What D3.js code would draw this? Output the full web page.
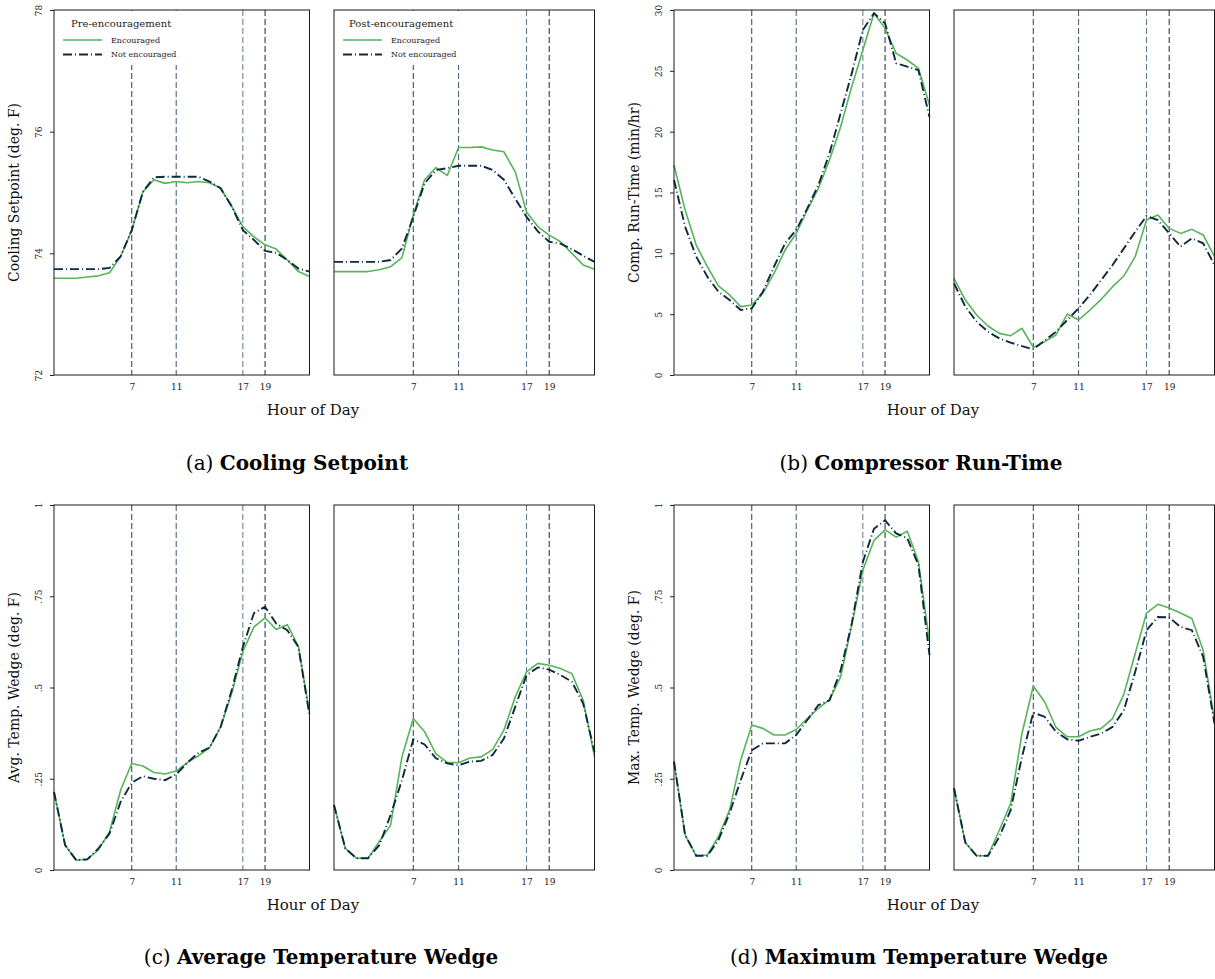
<!DOCTYPE html>
<html>
<head>
<meta charset="utf-8">
<script src="https://cdn.jsdelivr.net/npm/d3@7"></script>
<style>
  body { margin: 0; background: #fff; }
  svg { display: block; font-family: "DejaVu Serif", serif; }
</style>
</head>
<body>
<script>
// hours of the day (x categories)
const hours = [0,1,2,3,4,5,6,7,8,9,10,11,12,13,14,15,16,17,18,19,20,21,22,23];
const markerHours = [7, 11, 17, 19];
const markerColors = ["#263f58", "#3b5870", "#587690", "#14273b"];

// (a) cooling setpoint, deg F
const setpointPreEnc  = [73.59,73.59,73.59,73.61,73.63,73.68,73.95,74.38,75.01,75.21,75.15,75.18,75.16,75.18,75.16,75.07,74.77,74.44,74.27,74.14,74.07,73.89,73.70,73.62];
const setpointPreNot  = [73.74,73.74,73.74,73.74,73.74,73.76,73.95,74.38,75.01,75.25,75.26,75.26,75.26,75.26,75.18,75.07,74.77,74.38,74.22,74.04,74.01,73.89,73.75,73.70];
const setpointPostEnc = [73.70,73.70,73.70,73.70,73.73,73.78,73.93,74.63,75.21,75.41,75.28,75.74,75.74,75.75,75.70,75.67,75.34,74.68,74.44,74.30,74.19,74.00,73.81,73.74];
const setpointPostNot = [73.86,73.86,73.86,73.86,73.86,73.89,74.08,74.60,75.15,75.37,75.40,75.44,75.44,75.44,75.37,75.21,74.90,74.60,74.36,74.19,74.16,74.07,73.96,73.86];

// (b) compressor run-time, min/hr
const runtimePreEnc  = [17.26,13.56,10.68,8.90,7.32,6.58,5.62,5.75,6.71,8.36,10.27,11.64,13.56,15.34,17.67,20.41,23.70,26.71,29.73,28.49,26.44,25.89,25.21,22.19];
const runtimePreNot  = [16.03,12.19,9.73,8.08,6.85,6.16,5.34,5.48,6.85,8.90,10.82,11.92,13.70,15.62,18.22,21.51,24.79,28.36,29.73,28.90,25.62,25.34,25.06,21.20];
const runtimePostEnc = [7.95,6.16,4.93,4.03,3.42,3.23,3.84,2.27,2.74,3.29,5.01,4.52,5.34,6.22,7.26,8.14,9.73,12.74,13.15,12.05,11.64,11.97,11.51,9.73];
const runtimePostNot = [7.53,5.62,4.38,3.56,3.01,2.66,2.38,2.11,2.82,3.56,4.52,5.48,6.58,7.81,9.04,10.41,11.78,13.07,12.74,11.64,10.55,11.23,10.82,9.04];

// (c) average temperature wedge, deg F
const avgWedgePreEnc  = [0.214,0.068,0.027,0.030,0.055,0.105,0.219,0.292,0.285,0.267,0.263,0.271,0.294,0.313,0.335,0.392,0.484,0.598,0.666,0.691,0.659,0.672,0.613,0.431];
const avgWedgePreNot  = [0.214,0.068,0.027,0.029,0.059,0.100,0.187,0.239,0.257,0.250,0.246,0.262,0.294,0.321,0.335,0.392,0.493,0.611,0.704,0.721,0.675,0.657,0.611,0.424];
const avgWedgePostEnc = [0.178,0.059,0.032,0.032,0.078,0.123,0.310,0.415,0.379,0.318,0.295,0.294,0.307,0.310,0.330,0.383,0.474,0.543,0.566,0.561,0.552,0.538,0.465,0.310];
const avgWedgePostNot = [0.178,0.059,0.032,0.032,0.068,0.151,0.246,0.358,0.344,0.306,0.292,0.287,0.297,0.299,0.315,0.360,0.447,0.534,0.555,0.549,0.534,0.516,0.456,0.324];

// (d) maximum temperature wedge, deg F
const maxWedgePreEnc  = [0.297,0.096,0.039,0.041,0.091,0.164,0.301,0.397,0.388,0.370,0.370,0.385,0.415,0.443,0.467,0.529,0.671,0.821,0.903,0.932,0.912,0.928,0.845,0.626];
const maxWedgePreNot  = [0.297,0.096,0.039,0.039,0.082,0.155,0.246,0.328,0.347,0.347,0.347,0.370,0.411,0.452,0.465,0.547,0.675,0.844,0.935,0.958,0.922,0.909,0.836,0.589];
const maxWedgePostEnc = [0.224,0.075,0.039,0.039,0.109,0.182,0.374,0.504,0.461,0.391,0.365,0.365,0.381,0.388,0.415,0.482,0.593,0.704,0.728,0.718,0.704,0.689,0.602,0.411];
const maxWedgePostNot = [0.224,0.075,0.039,0.039,0.091,0.164,0.310,0.431,0.420,0.379,0.358,0.354,0.365,0.374,0.392,0.438,0.543,0.657,0.693,0.692,0.666,0.657,0.584,0.401];

const setpointTicks = [72, 74, 76, 78];
const runtimeTicks = [0, 5, 10, 15, 20, 25, 30];
const wedgeTicks = [0, 0.25, 0.5, 0.75, 1];
const wedgeFormat = d => d === 0 ? "0" : d === 1 ? "1" : String(d).replace(/^0/, "");

const legendTitles = ["Pre-encouragement", "Post-encouragement"];
const seriesNames = ["Encouraged", "Not encouraged"];

const green = "#56b45a";
const navy = "#0f2940";

const width = 1215, height = 979;
const svg = d3.select("body").append("svg")
    .attr("width", width)
    .attr("height", height);

const panels = [
    {lefts: [[54, 309.5], [334, 594.5]], top: 10, bottom: 375,
     domain: [72, 78], ticks: setpointTicks, fmt: d3.format("d"),
     ylabel: "Cooling Setpoint (deg. F)",
     data: [[setpointPreEnc, setpointPreNot], [setpointPostEnc, setpointPostNot]],
     legend: true, tag: "(a)", title: "Cooling Setpoint", capX: 297, capY: 470},
    {lefts: [[674, 929.5], [954, 1214.5]], top: 10, bottom: 375,
     domain: [0, 30], ticks: runtimeTicks, fmt: d3.format("d"),
     ylabel: "Comp. Run-Time (min/hr)",
     data: [[runtimePreEnc, runtimePreNot], [runtimePostEnc, runtimePostNot]],
     legend: false, tag: "(b)", title: "Compressor Run-Time", capX: 921, capY: 470},
    {lefts: [[54, 309.5], [334, 594.5]], top: 505, bottom: 870,
     domain: [0, 1], ticks: wedgeTicks, fmt: wedgeFormat,
     ylabel: "Avg. Temp. Wedge (deg. F)",
     data: [[avgWedgePreEnc, avgWedgePreNot], [avgWedgePostEnc, avgWedgePostNot]],
     legend: false, tag: "(c)", title: "Average Temperature Wedge", capX: 321, capY: 964},
    {lefts: [[674, 929.5], [954, 1214.5]], top: 505, bottom: 870,
     domain: [0, 1], ticks: wedgeTicks, fmt: wedgeFormat,
     ylabel: "Max. Temp. Wedge (deg. F)",
     data: [[maxWedgePreEnc, maxWedgePreNot], [maxWedgePostEnc, maxWedgePostNot]],
     legend: false, tag: "(d)", title: "Maximum Temperature Wedge", capX: 919, capY: 964}
];

panels.forEach(p => {
    const y = d3.scaleLinear().domain(p.domain).range([p.bottom, p.top]);

    p.lefts.forEach((ext, k) => {
        const x = d3.scaleLinear().domain([0, 23]).range(ext);
        const g = svg.append("g");

        // reference hours
        g.selectAll(".marker")
            .data(markerHours)
            .enter().append("line")
            .attr("x1", d => x(d)).attr("x2", d => x(d))
            .attr("y1", p.top).attr("y2", p.bottom)
            .attr("stroke", (d, i) => markerColors[i])
            .attr("stroke-width", 1)
            .attr("stroke-dasharray", "6,3");

        const line = d3.line()
            .x((d, i) => x(hours[i]))
            .y(d => y(d));

        g.append("path")
            .datum(p.data[k][0])
            .attr("d", line)
            .attr("fill", "none")
            .attr("stroke", green)
            .attr("stroke-width", 1.6)
            .attr("stroke-linejoin", "round");

        g.append("path")
            .datum(p.data[k][1])
            .attr("d", line)
            .attr("fill", "none")
            .attr("stroke", navy)
            .attr("stroke-width", 1.9)
            .attr("stroke-dasharray", "9,3,1,3");

        // frame
        g.append("rect")
            .attr("x", ext[0]).attr("y", p.top)
            .attr("width", ext[1] - ext[0]).attr("height", p.bottom - p.top)
            .attr("fill", "none")
            .attr("stroke", "#1a1a1a")
            .attr("stroke-width", 1);

        // x axis labels
        const xAxis = g.append("g")
            .attr("transform", "translate(0," + p.bottom + ")")
            .call(d3.axisBottom(x).tickValues(markerHours).tickSize(0).tickPadding(9));
        xAxis.select(".domain").remove();
        xAxis.selectAll("text")
            .attr("font-family", "DejaVu Serif")
            .attr("font-size", "9px")
            .attr("fill", "#222");

        if (k === 0) {
            const yAxis = g.append("g")
                .attr("transform", "translate(" + ext[0] + ",0)")
                .call(d3.axisLeft(y).tickValues(p.ticks).tickFormat(p.fmt).tickSize(4));
            yAxis.select(".domain").remove();
            yAxis.selectAll("line").attr("stroke", "#222");
            yAxis.selectAll("text")
                .attr("x", null).attr("dy", null)
                .attr("text-anchor", "middle")
                .attr("transform", "translate(-12,0) rotate(-90)")
                .attr("font-family", "DejaVu Serif")
                .attr("font-size", "9px")
                .attr("fill", "#222");

            svg.append("text")
                .attr("transform", "translate(" + (ext[0] - 35) + "," + ((p.top + p.bottom) / 2) + ") rotate(-90)")
                .attr("text-anchor", "middle")
                .attr("font-size", "14px")
                .attr("fill", "#111")
                .text(p.ylabel);
        }

        if (p.legend) {
            const lg = g.append("g").attr("transform", "translate(" + ext[0] + "," + p.top + ")");
            lg.append("rect")
                .attr("x", 1).attr("y", 1)
                .attr("width", 132).attr("height", 54)
                .attr("fill", "#fff");
            lg.append("text")
                .attr("x", k === 0 ? 17 : 15).attr("y", 17)
                .attr("font-size", "10px")
                .attr("fill", "#222")
                .text(legendTitles[k]);
            const items = lg.selectAll(".item")
                .data(seriesNames)
                .enter().append("g")
                .attr("transform", (d, i) => "translate(0," + (30 + i * 14.5) + ")");
            items.append("line")
                .attr("x1", 9).attr("x2", 48)
                .attr("stroke", (d, i) => i === 0 ? green : navy)
                .attr("stroke-width", (d, i) => i === 0 ? 1.6 : 1.9)
                .attr("stroke-dasharray", (d, i) => i === 0 ? null : "9,3,1,3");
            items.append("text")
                .attr("x", 57).attr("dy", "0.35em")
                .attr("font-size", "8px")
                .attr("fill", "#222")
                .text(d => d);
        }
    });

    // shared x title
    svg.append("text")
        .attr("x", p.lefts[0][0] + 259)
        .attr("y", p.bottom + 40)
        .attr("text-anchor", "middle")
        .attr("font-size", "15px")
        .attr("fill", "#111")
        .text("Hour of Day");

    // caption
    const cap = svg.append("text")
        .attr("x", p.capX)
        .attr("y", p.capY)
        .attr("text-anchor", "middle")
        .attr("font-size", "20px")
        .attr("fill", "#000");
    cap.append("tspan").text(p.tag + " ");
    cap.append("tspan").attr("font-weight", "bold").text(p.title);
});
</script>
</body>
</html>
